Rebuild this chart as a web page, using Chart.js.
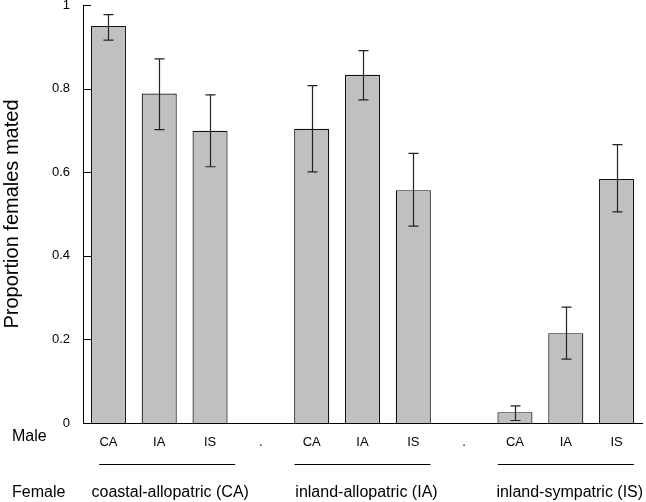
<!DOCTYPE html>
<html>
<head>
<meta charset="utf-8">
<script src="https://cdn.jsdelivr.net/npm/chart.js@4"></script>
<style>
  html, body { margin: 0; padding: 0; background: #fff; }
  #wrap { width: 646px; height: 502px; }
</style>
</head>
<body>
<div id="wrap"><canvas id="chart"></canvas></div>
<script>
// male population for each bar ('.' = gap between female groups)
const maleLabels = ['CA', 'IA', 'IS', '.', 'CA', 'IA', 'IS', '.', 'CA', 'IA', 'IS'];
const proportionMated = [0.950, 0.788, 0.699, null, 0.704, 0.833, 0.557, null, 0.026, 0.215, 0.584];
const errLow  = [0.916, 0.702, 0.613, null, 0.601, 0.773, 0.471, null, 0.006, 0.153, 0.505];
const errHigh = [0.977, 0.871, 0.785, null, 0.807, 0.891, 0.645, null, 0.041, 0.277, 0.666];
const femaleGroups = ['coastal-allopatric (CA)', 'inland-allopatric (IA)', 'inland-sympatric (IS)'];
const groupFirst = [0, 4, 8];
const groupLast = [2, 6, 10];
const yTicks = [0, 0.2, 0.4, 0.6, 0.8, 1];

const FONT = "'Liberation Sans', Arial, sans-serif";

// error bars, inward y ticks, Male / Female rows
const extras = {
    id: 'extras',
    afterDatasetsDraw(chart) {
        const ctx = chart.ctx;
        const x = chart.scales.x;
        const y = chart.scales.y;

        ctx.save();
        ctx.strokeStyle = '#222';
        ctx.lineWidth = 1.2;
        for (let i = 0; i < proportionMated.length; i++) {
            if (proportionMated[i] === null) continue;
            const cx = Math.round(x.getPixelForValue(i)) + 0.5;
            const top = y.getPixelForValue(errHigh[i]);
            const bot = y.getPixelForValue(errLow[i]);
            ctx.beginPath();
            ctx.moveTo(cx, top); ctx.lineTo(cx, bot);
            ctx.moveTo(cx - 5, top); ctx.lineTo(cx + 5, top);
            ctx.moveTo(cx - 5, bot); ctx.lineTo(cx + 5, bot);
            ctx.stroke();
        }

        // short ticks pointing into the plot
        ctx.strokeStyle = '#000';
        ctx.lineWidth = 1;
        const ax = chart.chartArea.left;
        yTicks.forEach(function (v) {
            const py = Math.round(y.getPixelForValue(v)) + 0.5;
            ctx.beginPath();
            ctx.moveTo(ax, py); ctx.lineTo(ax + 8, py);
            ctx.stroke();
        });

        // female group lines + names
        ctx.fillStyle = '#000';
        ctx.font = '16px ' + FONT;
        ctx.textBaseline = 'middle';
        for (let g = 0; g < femaleGroups.length; g++) {
            const x0 = x.getPixelForValue(groupFirst[g]);
            const x1 = x.getPixelForValue(groupLast[g]);
            const mid = (x0 + x1) / 2 + (g === 0 ? 8 : 0);
            ctx.beginPath();
            ctx.moveTo(mid - 68, 464.5); ctx.lineTo(mid + 68, 464.5);
            ctx.stroke();
            ctx.textAlign = 'center';
            ctx.fillText(femaleGroups[g], mid + (g === 0 ? 3 : 4), 493);
        }
        ctx.textAlign = 'left';
        ctx.fillText('Male', 12, 437);
        ctx.fillText('Female', 12, 493);
        ctx.restore();
    }
};

new Chart(document.getElementById('chart'), {
    type: 'bar',
    data: {
        labels: maleLabels,
        datasets: [{
            data: proportionMated,
            backgroundColor: '#c0c0c0',
            borderColor: '#111',
            borderWidth: 1.2,
            categoryPercentage: 1,
            barPercentage: 0.69
        }]
    },
    options: {
        responsive: true,
        maintainAspectRatio: false,
        animation: false,
        layout: { padding: { left: 0, right: 4, top: 5, bottom: 0 } },
        plugins: {
            legend: { display: false },
            tooltip: { enabled: false }
        },
        scales: {
            x: {
                grid: { display: false, drawTicks: false },
                border: { display: true, color: '#000', width: 1 },
                ticks: { color: '#000', padding: 12, font: { family: FONT, size: 13 }, maxRotation: 0, autoSkip: false },
                afterFit: function (scale) { scale.height = 79; }
            },
            y: {
                min: 0,
                max: 1,
                afterBuildTicks: function (scale) {
                    scale.ticks = yTicks.map(function (v) { return { value: v }; });
                },
                grid: { display: false, drawTicks: false },
                border: { display: true, color: '#000', width: 1 },
                ticks: {
                    color: '#000',
                    padding: 13,
                    font: { family: FONT, size: 13 },
                    callback: function (v) { return String(Number(v.toFixed(1))); }
                },
                title: {
                    display: true,
                    text: 'Proportion females mated',
                    color: '#000',
                    font: { family: FONT, size: 20 },
                    padding: { top: 0, bottom: 0 }
                },
                afterFit: function (scale) {
                    scale.width = 83;
                    scale.paddingTop = 0;
                    scale.paddingBottom = 0;
                }
            }
        }
    },
    plugins: [extras]
});
</script>
</body>
</html>
